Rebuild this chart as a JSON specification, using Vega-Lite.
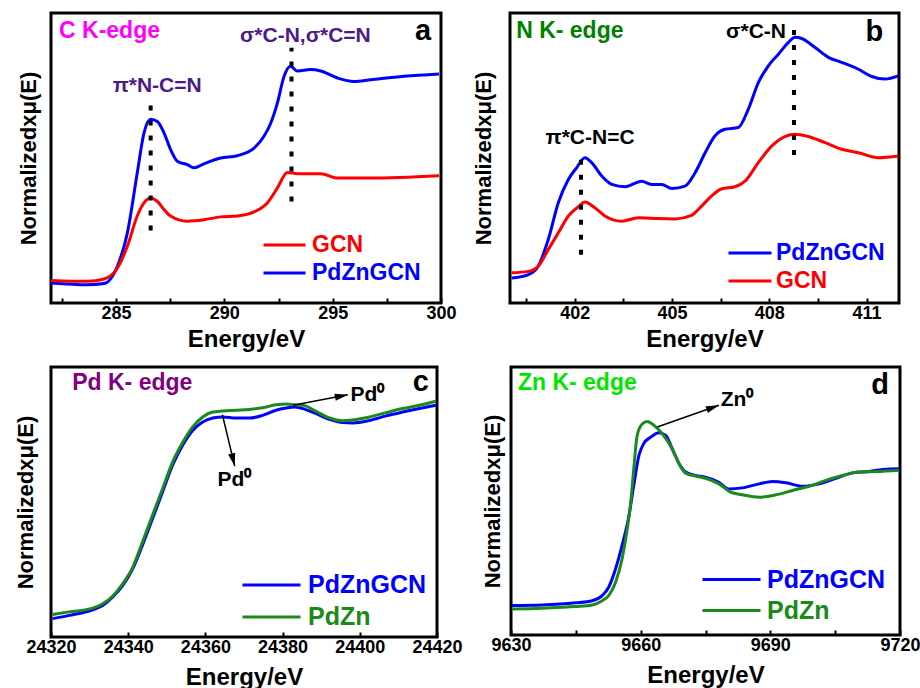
{
  "$schema": "https://vega.github.io/schema/vega-lite/v6.json",
  "padding": {"left": 12, "top": 11, "right": 0, "bottom": 0},
  "background": "white",
  "config": {
    "font": "Liberation Sans",
    "view": {"stroke": "black", "strokeWidth": 3},
    "axis": {"grid": false, "domain": false, "labelFont": "Liberation Sans", "labelFontWeight": "bold", "labelFontSize": 18, "labelColor": "black", "titleFont": "Liberation Sans", "titleFontWeight": "bold", "titleFontSize": 24, "titleColor": "black", "tickColor": "black", "tickWidth": 2, "tickSize": -5, "labelPadding": 6, "titlePadding": 5},
    "axisX": {"labelFlush": false, "labelOverlap": false},
    "axisY": {"labels": false, "ticks": false, "titleFontSize": 22},
    "legend": {"title": null, "orient": "none", "symbolType": "stroke", "symbolStrokeWidth": 3, "labelFont": "Liberation Sans", "labelFontWeight": "bold", "padding": 0, "rowPadding": 0},
    "text": {"font": "Liberation Sans", "fontWeight": "bold"}
  },
  "datasets": {
    "a": [
      {"e": 282.0, "v": 6.9, "s": "PdZnGCN"}, {"e": 283.68, "v": 6.3, "s": "PdZnGCN"}, {"e": 284.45, "v": 6.7, "s": "PdZnGCN"}, {"e": 285.06, "v": 12.6, "s": "PdZnGCN"}, {"e": 285.52, "v": 24, "s": "PdZnGCN"}, {"e": 285.98, "v": 44.8, "s": "PdZnGCN"}, {"e": 286.29, "v": 58.6, "s": "PdZnGCN"}, {"e": 286.6, "v": 63.4, "s": "PdZnGCN"}, {"e": 286.91, "v": 62.6, "s": "PdZnGCN"}, {"e": 287.22, "v": 58.6, "s": "PdZnGCN"}, {"e": 287.52, "v": 52.9, "s": "PdZnGCN"}, {"e": 287.83, "v": 48.9, "s": "PdZnGCN"}, {"e": 288.29, "v": 47.7, "s": "PdZnGCN"}, {"e": 288.6, "v": 46.6, "s": "PdZnGCN"}, {"e": 289.06, "v": 48, "s": "PdZnGCN"}, {"e": 289.83, "v": 50, "s": "PdZnGCN"}, {"e": 290.6, "v": 50.8, "s": "PdZnGCN"}, {"e": 291.37, "v": 53.4, "s": "PdZnGCN"}, {"e": 291.83, "v": 57.5, "s": "PdZnGCN"}, {"e": 292.14, "v": 62, "s": "PdZnGCN"}, {"e": 292.45, "v": 69, "s": "PdZnGCN"}, {"e": 292.75, "v": 78, "s": "PdZnGCN"}, {"e": 293.06, "v": 81.6, "s": "PdZnGCN"}, {"e": 293.37, "v": 80, "s": "PdZnGCN"}, {"e": 293.98, "v": 80.5, "s": "PdZnGCN"}, {"e": 294.45, "v": 80, "s": "PdZnGCN"}, {"e": 295.22, "v": 77.6, "s": "PdZnGCN"}, {"e": 295.98, "v": 76.4, "s": "PdZnGCN"}, {"e": 296.75, "v": 77, "s": "PdZnGCN"}, {"e": 298.29, "v": 78.2, "s": "PdZnGCN"}, {"e": 299.91, "v": 79, "s": "PdZnGCN"},
      {"e": 282.0, "v": 7.8, "s": "GCN"}, {"e": 283.68, "v": 7.5, "s": "GCN"}, {"e": 284.45, "v": 8.3, "s": "GCN"}, {"e": 285.06, "v": 12, "s": "GCN"}, {"e": 285.52, "v": 19.5, "s": "GCN"}, {"e": 285.98, "v": 30, "s": "GCN"}, {"e": 286.29, "v": 34.5, "s": "GCN"}, {"e": 286.6, "v": 36.2, "s": "GCN"}, {"e": 286.91, "v": 35, "s": "GCN"}, {"e": 287.22, "v": 32.2, "s": "GCN"}, {"e": 287.52, "v": 30, "s": "GCN"}, {"e": 288.29, "v": 28.2, "s": "GCN"}, {"e": 289.06, "v": 28.7, "s": "GCN"}, {"e": 289.83, "v": 29.7, "s": "GCN"}, {"e": 290.6, "v": 30, "s": "GCN"}, {"e": 291.37, "v": 31.4, "s": "GCN"}, {"e": 291.98, "v": 34.5, "s": "GCN"}, {"e": 292.45, "v": 39.7, "s": "GCN"}, {"e": 292.91, "v": 45, "s": "GCN"}, {"e": 293.37, "v": 44.6, "s": "GCN"}, {"e": 294.45, "v": 44.6, "s": "GCN"}, {"e": 295.22, "v": 43.1, "s": "GCN"}, {"e": 296.75, "v": 43.1, "s": "GCN"}, {"e": 299.91, "v": 43.9, "s": "GCN"}
    ],
    "b": [
      {"e": 400.05, "v": 8.6, "s": "PdZnGCN"}, {"e": 400.57, "v": 9.8, "s": "PdZnGCN"}, {"e": 400.87, "v": 12.7, "s": "PdZnGCN"}, {"e": 401.18, "v": 21.9, "s": "PdZnGCN"}, {"e": 401.49, "v": 34.6, "s": "PdZnGCN"}, {"e": 401.8, "v": 42.6, "s": "PdZnGCN"}, {"e": 402.06, "v": 46.7, "s": "PdZnGCN"}, {"e": 402.31, "v": 50.1, "s": "PdZnGCN"}, {"e": 402.52, "v": 48.4, "s": "PdZnGCN"}, {"e": 402.83, "v": 43.8, "s": "PdZnGCN"}, {"e": 403.14, "v": 40.9, "s": "PdZnGCN"}, {"e": 403.55, "v": 40.1, "s": "PdZnGCN"}, {"e": 404.06, "v": 42, "s": "PdZnGCN"}, {"e": 404.37, "v": 40.9, "s": "PdZnGCN"}, {"e": 404.68, "v": 40.9, "s": "PdZnGCN"}, {"e": 404.99, "v": 39.5, "s": "PdZnGCN"}, {"e": 405.4, "v": 40.3, "s": "PdZnGCN"}, {"e": 405.71, "v": 44.9, "s": "PdZnGCN"}, {"e": 406.02, "v": 51.8, "s": "PdZnGCN"}, {"e": 406.32, "v": 57.6, "s": "PdZnGCN"}, {"e": 406.63, "v": 59.9, "s": "PdZnGCN"}, {"e": 407.04, "v": 60.5, "s": "PdZnGCN"}, {"e": 407.35, "v": 66.8, "s": "PdZnGCN"}, {"e": 407.66, "v": 76, "s": "PdZnGCN"}, {"e": 407.97, "v": 81.8, "s": "PdZnGCN"}, {"e": 408.28, "v": 85.8, "s": "PdZnGCN"}, {"e": 408.59, "v": 89.9, "s": "PdZnGCN"}, {"e": 408.79, "v": 91.6, "s": "PdZnGCN"}, {"e": 409.0, "v": 91.2, "s": "PdZnGCN"}, {"e": 409.41, "v": 88.1, "s": "PdZnGCN"}, {"e": 409.82, "v": 84.7, "s": "PdZnGCN"}, {"e": 410.23, "v": 83, "s": "PdZnGCN"}, {"e": 410.75, "v": 80.6, "s": "PdZnGCN"}, {"e": 411.16, "v": 78.1, "s": "PdZnGCN"}, {"e": 411.57, "v": 77.2, "s": "PdZnGCN"}, {"e": 411.98, "v": 78.3, "s": "PdZnGCN"},
      {"e": 400.05, "v": 10.4, "s": "GCN"}, {"e": 400.57, "v": 10.9, "s": "GCN"}, {"e": 400.87, "v": 12.7, "s": "GCN"}, {"e": 401.18, "v": 18.4, "s": "GCN"}, {"e": 401.49, "v": 24.2, "s": "GCN"}, {"e": 401.8, "v": 30, "s": "GCN"}, {"e": 402.11, "v": 33.2, "s": "GCN"}, {"e": 402.31, "v": 34.8, "s": "GCN"}, {"e": 402.62, "v": 32.8, "s": "GCN"}, {"e": 402.93, "v": 30, "s": "GCN"}, {"e": 403.44, "v": 28.2, "s": "GCN"}, {"e": 403.96, "v": 29.4, "s": "GCN"}, {"e": 404.58, "v": 29.1, "s": "GCN"}, {"e": 405.09, "v": 29, "s": "GCN"}, {"e": 405.6, "v": 30.2, "s": "GCN"}, {"e": 405.91, "v": 33.4, "s": "GCN"}, {"e": 406.22, "v": 36.9, "s": "GCN"}, {"e": 406.53, "v": 39.4, "s": "GCN"}, {"e": 406.94, "v": 40.1, "s": "GCN"}, {"e": 407.25, "v": 42, "s": "GCN"}, {"e": 407.66, "v": 48.4, "s": "GCN"}, {"e": 408.07, "v": 54.1, "s": "GCN"}, {"e": 408.48, "v": 57.4, "s": "GCN"}, {"e": 408.79, "v": 58.2, "s": "GCN"}, {"e": 409.2, "v": 57.4, "s": "GCN"}, {"e": 409.72, "v": 55.3, "s": "GCN"}, {"e": 410.23, "v": 53, "s": "GCN"}, {"e": 410.75, "v": 51.8, "s": "GCN"}, {"e": 411.36, "v": 50.1, "s": "GCN"}, {"e": 411.98, "v": 50.7, "s": "GCN"}
    ],
    "c": [
      {"e": 24320.4, "v": 6.8, "s": "PdZnGCN"}, {"e": 24324.7, "v": 8, "s": "PdZnGCN"}, {"e": 24330.8, "v": 10.1, "s": "PdZnGCN"}, {"e": 24333.4, "v": 11.7, "s": "PdZnGCN"}, {"e": 24336.0, "v": 14.8, "s": "PdZnGCN"}, {"e": 24338.6, "v": 19.1, "s": "PdZnGCN"}, {"e": 24341.2, "v": 25.3, "s": "PdZnGCN"}, {"e": 24343.7, "v": 34, "s": "PdZnGCN"}, {"e": 24346.3, "v": 43.8, "s": "PdZnGCN"}, {"e": 24348.9, "v": 53.7, "s": "PdZnGCN"}, {"e": 24351.5, "v": 63.6, "s": "PdZnGCN"}, {"e": 24354.1, "v": 71, "s": "PdZnGCN"}, {"e": 24356.7, "v": 76.5, "s": "PdZnGCN"}, {"e": 24359.3, "v": 79.6, "s": "PdZnGCN"}, {"e": 24361.9, "v": 81.1, "s": "PdZnGCN"}, {"e": 24364.5, "v": 81.5, "s": "PdZnGCN"}, {"e": 24367.9, "v": 81.1, "s": "PdZnGCN"}, {"e": 24371.4, "v": 81.1, "s": "PdZnGCN"}, {"e": 24374.8, "v": 82.1, "s": "PdZnGCN"}, {"e": 24378.3, "v": 84, "s": "PdZnGCN"}, {"e": 24380.9, "v": 84.8, "s": "PdZnGCN"}, {"e": 24383.0, "v": 85.2, "s": "PdZnGCN"}, {"e": 24385.2, "v": 84.6, "s": "PdZnGCN"}, {"e": 24388.7, "v": 82.7, "s": "PdZnGCN"}, {"e": 24392.1, "v": 80.6, "s": "PdZnGCN"}, {"e": 24395.6, "v": 79.4, "s": "PdZnGCN"}, {"e": 24398.2, "v": 79.3, "s": "PdZnGCN"}, {"e": 24402.5, "v": 80.2, "s": "PdZnGCN"}, {"e": 24406.8, "v": 81.9, "s": "PdZnGCN"}, {"e": 24411.1, "v": 83.3, "s": "PdZnGCN"}, {"e": 24415.4, "v": 84.6, "s": "PdZnGCN"}, {"e": 24419.7, "v": 85.8, "s": "PdZnGCN"},
      {"e": 24320.4, "v": 8.3, "s": "PdZn"}, {"e": 24324.7, "v": 9.3, "s": "PdZn"}, {"e": 24330.8, "v": 10.7, "s": "PdZn"}, {"e": 24333.4, "v": 12.3, "s": "PdZn"}, {"e": 24336.0, "v": 15.2, "s": "PdZn"}, {"e": 24338.6, "v": 19.8, "s": "PdZn"}, {"e": 24341.2, "v": 25.9, "s": "PdZn"}, {"e": 24343.7, "v": 35.2, "s": "PdZn"}, {"e": 24346.3, "v": 45.1, "s": "PdZn"}, {"e": 24348.9, "v": 54.9, "s": "PdZn"}, {"e": 24351.5, "v": 64.8, "s": "PdZn"}, {"e": 24354.1, "v": 72, "s": "PdZn"}, {"e": 24356.7, "v": 77.8, "s": "PdZn"}, {"e": 24359.3, "v": 81.5, "s": "PdZn"}, {"e": 24361.9, "v": 83.3, "s": "PdZn"}, {"e": 24364.5, "v": 83.7, "s": "PdZn"}, {"e": 24367.9, "v": 84, "s": "PdZn"}, {"e": 24371.4, "v": 84.3, "s": "PdZn"}, {"e": 24374.8, "v": 84.9, "s": "PdZn"}, {"e": 24378.3, "v": 86, "s": "PdZn"}, {"e": 24380.9, "v": 86.3, "s": "PdZn"}, {"e": 24383.0, "v": 86, "s": "PdZn"}, {"e": 24385.2, "v": 85.8, "s": "PdZn"}, {"e": 24388.7, "v": 83.6, "s": "PdZn"}, {"e": 24392.1, "v": 81.1, "s": "PdZn"}, {"e": 24395.6, "v": 80.1, "s": "PdZn"}, {"e": 24398.2, "v": 80.4, "s": "PdZn"}, {"e": 24402.5, "v": 81.5, "s": "PdZn"}, {"e": 24406.8, "v": 83.1, "s": "PdZn"}, {"e": 24411.1, "v": 84.6, "s": "PdZn"}, {"e": 24415.4, "v": 85.8, "s": "PdZn"}, {"e": 24419.7, "v": 87.3, "s": "PdZn"}
    ],
    "d": [
      {"e": 9630.2, "v": 11, "s": "PdZnGCN"}, {"e": 9637.2, "v": 11.2, "s": "PdZnGCN"}, {"e": 9644.9, "v": 12, "s": "PdZnGCN"}, {"e": 9648.8, "v": 12.8, "s": "PdZnGCN"}, {"e": 9651.1, "v": 14.7, "s": "PdZnGCN"}, {"e": 9652.6, "v": 17.8, "s": "PdZnGCN"}, {"e": 9654.2, "v": 24.7, "s": "PdZnGCN"}, {"e": 9655.7, "v": 33.4, "s": "PdZnGCN"}, {"e": 9657.3, "v": 44.6, "s": "PdZnGCN"}, {"e": 9658.4, "v": 55.8, "s": "PdZnGCN"}, {"e": 9659.6, "v": 67, "s": "PdZnGCN"}, {"e": 9660.7, "v": 71.4, "s": "PdZnGCN"}, {"e": 9662.3, "v": 73.8, "s": "PdZnGCN"}, {"e": 9664.2, "v": 75.5, "s": "PdZnGCN"}, {"e": 9665.8, "v": 74.5, "s": "PdZnGCN"}, {"e": 9667.3, "v": 69.5, "s": "PdZnGCN"}, {"e": 9668.9, "v": 63.9, "s": "PdZnGCN"}, {"e": 9670.4, "v": 60.8, "s": "PdZnGCN"}, {"e": 9672.7, "v": 59.5, "s": "PdZnGCN"}, {"e": 9675.0, "v": 58.9, "s": "PdZnGCN"}, {"e": 9678.1, "v": 57, "s": "PdZnGCN"}, {"e": 9680.4, "v": 54.5, "s": "PdZnGCN"}, {"e": 9683.5, "v": 54.9, "s": "PdZnGCN"}, {"e": 9687.4, "v": 56.4, "s": "PdZnGCN"}, {"e": 9690.5, "v": 57.3, "s": "PdZnGCN"}, {"e": 9693.6, "v": 56.8, "s": "PdZnGCN"}, {"e": 9697.4, "v": 55.5, "s": "PdZnGCN"}, {"e": 9701.3, "v": 56.4, "s": "PdZnGCN"}, {"e": 9705.2, "v": 58.5, "s": "PdZnGCN"}, {"e": 9709.0, "v": 60.5, "s": "PdZnGCN"}, {"e": 9712.9, "v": 61, "s": "PdZnGCN"}, {"e": 9716.0, "v": 61.8, "s": "PdZnGCN"}, {"e": 9719.8, "v": 62, "s": "PdZnGCN"},
      {"e": 9630.2, "v": 9.7, "s": "PdZn"}, {"e": 9637.2, "v": 10, "s": "PdZn"}, {"e": 9644.9, "v": 10.6, "s": "PdZn"}, {"e": 9648.8, "v": 11.2, "s": "PdZn"}, {"e": 9651.1, "v": 12.8, "s": "PdZn"}, {"e": 9652.6, "v": 14.7, "s": "PdZn"}, {"e": 9654.2, "v": 19.7, "s": "PdZn"}, {"e": 9655.7, "v": 28.4, "s": "PdZn"}, {"e": 9656.9, "v": 39.6, "s": "PdZn"}, {"e": 9657.7, "v": 49.6, "s": "PdZn"}, {"e": 9658.4, "v": 62, "s": "PdZn"}, {"e": 9659.2, "v": 74.5, "s": "PdZn"}, {"e": 9660.4, "v": 78.8, "s": "PdZn"}, {"e": 9661.5, "v": 79.7, "s": "PdZn"}, {"e": 9663.1, "v": 78.2, "s": "PdZn"}, {"e": 9665.0, "v": 75.1, "s": "PdZn"}, {"e": 9667.3, "v": 69.5, "s": "PdZn"}, {"e": 9668.9, "v": 63.9, "s": "PdZn"}, {"e": 9670.4, "v": 60.4, "s": "PdZn"}, {"e": 9672.7, "v": 59.3, "s": "PdZn"}, {"e": 9675.0, "v": 58.5, "s": "PdZn"}, {"e": 9678.1, "v": 56.4, "s": "PdZn"}, {"e": 9680.8, "v": 53.3, "s": "PdZn"}, {"e": 9683.5, "v": 52.3, "s": "PdZn"}, {"e": 9687.4, "v": 51.4, "s": "PdZn"}, {"e": 9691.3, "v": 52.3, "s": "PdZn"}, {"e": 9695.1, "v": 53.9, "s": "PdZn"}, {"e": 9699.0, "v": 55.5, "s": "PdZn"}, {"e": 9702.9, "v": 57.7, "s": "PdZn"}, {"e": 9706.7, "v": 59.5, "s": "PdZn"}, {"e": 9710.6, "v": 60.8, "s": "PdZn"}, {"e": 9714.4, "v": 61, "s": "PdZn"}, {"e": 9719.8, "v": 61.5, "s": "PdZn"}
    ]
  },
  "vconcat": [
    {
      "hconcat": [
        {
          "width": 390, "height": 290,
          "layer": [
            {
              "data": {"name": "a"},
              "mark": {"type": "line", "strokeWidth": 3, "interpolate": "monotone"},
              "encoding": {
                "x": {"field": "e", "type": "quantitative", "scale": {"domain": [282, 300], "nice": false, "zero": false},
                  "axis": {"title": "Energy/eV", "values": [282.5, 285, 287.5, 290, 292.5, 295, 297.5, 300], "format": "d", "labelExpr": "datum.value % 5 === 0 ? datum.label : ''"}},
                "y": {"field": "v", "type": "quantitative", "scale": {"domain": [0, 100], "nice": false, "zero": false}, "axis": {"title": "Normalizedxμ(E)", "titlePadding": 11}},
                "color": {"field": "s", "type": "nominal", "scale": {"domain": ["GCN", "PdZnGCN"], "range": ["#ff0000", "#0000ff"]},
                  "legend": {"legendX": 211, "legendY": 218, "symbolSize": 1764, "clipHeight": 28, "labelFontSize": 23, "labelOffset": 5,
                    "encode": {"labels": {"update": {"fill": {"signal": "datum.value === 'GCN' ? '#ff0000' : '#0000ff'"}}}}}}
              }
            },
            {
              "data": {"values": [{"e": 286.6, "y1": 25, "y2": 70}, {"e": 293.1, "y1": 35, "y2": 88}]},
              "mark": {"type": "rule", "color": "black", "strokeWidth": 4, "strokeDash": [5, 10]},
              "encoding": {"x": {"field": "e", "type": "quantitative"}, "y": {"field": "y1", "type": "quantitative"}, "y2": {"field": "y2"}}
            },
            {
              "data": {"values": [{"e": 282.37, "v": 93.8, "t": "C K-edge"}]},
              "mark": {"type": "text", "align": "left", "baseline": "middle", "fontSize": 23, "color": "#ff00ff"},
              "encoding": {"x": {"field": "e", "type": "quantitative"}, "y": {"field": "v", "type": "quantitative"}, "text": {"field": "t"}}
            },
            {
              "data": {"values": [{"e": 286.9, "v": 74.8, "t": "π*N-C=N"}, {"e": 293.74, "v": 92, "t": "σ*C-N,σ*C=N"}]},
              "mark": {"type": "text", "align": "center", "baseline": "middle", "fontSize": 21, "color": "#4d1a8a"},
              "encoding": {"x": {"field": "e", "type": "quantitative"}, "y": {"field": "v", "type": "quantitative"}, "text": {"field": "t"}}
            },
            {
              "data": {"values": [{"e": 299.17, "v": 93.8, "t": "a"}]},
              "mark": {"type": "text", "align": "center", "baseline": "middle", "fontSize": 29, "color": "black"},
              "encoding": {"x": {"field": "e", "type": "quantitative"}, "y": {"field": "v", "type": "quantitative"}, "text": {"field": "t"}}
            }
          ]
        },
        {
          "width": 389, "height": 290,
          "layer": [
            {
              "data": {"name": "b"},
              "mark": {"type": "line", "strokeWidth": 3, "interpolate": "monotone"},
              "encoding": {
                "x": {"field": "e", "type": "quantitative", "scale": {"domain": [400, 412], "nice": false, "zero": false},
                  "axis": {"title": "Energy/eV", "values": [400.5, 402, 403.5, 405, 406.5, 408, 409.5, 411], "format": "d", "labelExpr": "(datum.value - 402) % 3 === 0 ? datum.label : ''"}},
                "y": {"field": "v", "type": "quantitative", "scale": {"domain": [0, 100], "nice": false, "zero": false}, "axis": {"title": "Normalizedxμ(E)", "titlePadding": 15}},
                "color": {"field": "s", "type": "nominal", "scale": {"domain": ["PdZnGCN", "GCN"], "range": ["#0000ff", "#ff0000"]},
                  "legend": {"legendX": 217, "legendY": 226, "symbolSize": 1849, "clipHeight": 28, "labelFontSize": 23, "labelOffset": 3,
                    "encode": {"labels": {"update": {"fill": {"signal": "datum.value === 'GCN' ? '#ff0000' : '#0000ff'"}}}}}}
              }
            },
            {
              "data": {"values": [{"e": 402.19, "y1": 16.6, "y2": 51.7}, {"e": 408.76, "y1": 51, "y2": 95.5}]},
              "mark": {"type": "rule", "color": "black", "strokeWidth": 4, "strokeDash": [5, 10]},
              "encoding": {"x": {"field": "e", "type": "quantitative"}, "y": {"field": "y1", "type": "quantitative"}, "y2": {"field": "y2"}}
            },
            {
              "data": {"values": [{"e": 400.19, "v": 93.8, "t": "N K- edge"}]},
              "mark": {"type": "text", "align": "left", "baseline": "middle", "fontSize": 23, "color": "#008000"},
              "encoding": {"x": {"field": "e", "type": "quantitative"}, "y": {"field": "v", "type": "quantitative"}, "text": {"field": "t"}}
            },
            {
              "data": {"values": [{"e": 402.47, "v": 56.8, "t": "π*C-N=C"}, {"e": 407.59, "v": 93.5, "t": "σ*C-N"}]},
              "mark": {"type": "text", "align": "center", "baseline": "middle", "fontSize": 21, "color": "black"},
              "encoding": {"x": {"field": "e", "type": "quantitative"}, "y": {"field": "v", "type": "quantitative"}, "text": {"field": "t"}}
            },
            {
              "data": {"values": [{"e": 411.24, "v": 93.3, "t": "b"}]},
              "mark": {"type": "text", "align": "center", "baseline": "middle", "fontSize": 29, "color": "black"},
              "encoding": {"x": {"field": "e", "type": "quantitative"}, "y": {"field": "v", "type": "quantitative"}, "text": {"field": "t"}}
            }
          ]
        }
      ],
      "spacing": 12,
      "resolve": {"scale": {"x": "independent", "y": "independent", "color": "independent"}, "legend": {"color": "independent"}}
    },
    {
      "hconcat": [
        {
          "width": 386, "height": 270,
          "layer": [
            {
              "data": {"name": "c"},
              "mark": {"type": "line", "strokeWidth": 3, "interpolate": "monotone"},
              "encoding": {
                "x": {"field": "e", "type": "quantitative", "scale": {"domain": [24320, 24420], "nice": false, "zero": false},
                  "axis": {"title": "Energy/eV", "titlePadding": 9, "values": [24320, 24330, 24340, 24350, 24360, 24370, 24380, 24390, 24400, 24410, 24420], "format": "d", "labelExpr": "datum.value % 20 === 0 ? datum.label : ''"}},
                "y": {"field": "v", "type": "quantitative", "scale": {"domain": [0, 100], "nice": false, "zero": false}, "axis": {"title": "Normalizedxμ(E)", "titlePadding": 14}},
                "color": {"field": "s", "type": "nominal", "scale": {"domain": ["PdZnGCN", "PdZn"], "range": ["#0000ff", "#1b8a1b"]},
                  "legend": {"legendX": 190, "legendY": 202, "symbolSize": 3364, "clipHeight": 32, "labelFontSize": 25, "labelOffset": 6,
                    "encode": {"labels": {"update": {"fill": {"signal": "datum.value === 'PdZn' ? '#1b8a1b' : '#0000ff'"}}}}}}
              }
            },
            {
              "data": {"values": [{"e1": 24364.4, "v1": 82.3, "e2": 24367.6, "v2": 63.3}, {"e1": 24382.7, "v1": 85.8, "e2": 24396.9, "v2": 89.7}]},
              "mark": {"type": "rule", "color": "black", "strokeWidth": 1.5},
              "encoding": {"x": {"field": "e1", "type": "quantitative"}, "x2": {"field": "e2"}, "y": {"field": "v1", "type": "quantitative"}, "y2": {"field": "v2"}}
            },
            {
              "data": {"values": [{"e": 24367.2, "v": 65.6}]},
              "mark": {"type": "point", "filled": true, "color": "black", "opacity": 1, "shape": "M0,-1L0.55,1L-0.55,1Z", "size": 169, "angle": 166.4},
              "encoding": {"x": {"field": "e", "type": "quantitative"}, "y": {"field": "v", "type": "quantitative"}}
            },
            {
              "data": {"values": [{"e": 24395.25, "v": 89.24}]},
              "mark": {"type": "point", "filled": true, "color": "black", "opacity": 1, "shape": "M0,-1L0.55,1L-0.55,1Z", "size": 169, "angle": 79.1},
              "encoding": {"x": {"field": "e", "type": "quantitative"}, "y": {"field": "v", "type": "quantitative"}}
            },
            {
              "data": {"values": [{"e": 24367.5, "v": 58, "t": "Pd⁰"}]},
              "mark": {"type": "text", "align": "center", "baseline": "middle", "fontSize": 21, "color": "black"},
              "encoding": {"x": {"field": "e", "type": "quantitative"}, "y": {"field": "v", "type": "quantitative"}, "text": {"field": "t"}}
            },
            {
              "data": {"values": [{"e": 24397.6, "v": 89.6, "t": "Pd⁰"}]},
              "mark": {"type": "text", "align": "left", "baseline": "middle", "fontSize": 21, "color": "black"},
              "encoding": {"x": {"field": "e", "type": "quantitative"}, "y": {"field": "v", "type": "quantitative"}, "text": {"field": "t"}}
            },
            {
              "data": {"values": [{"e": 24325.5, "v": 93.9, "t": "Pd K- edge"}]},
              "mark": {"type": "text", "align": "left", "baseline": "middle", "fontSize": 23, "color": "#800080"},
              "encoding": {"x": {"field": "e", "type": "quantitative"}, "y": {"field": "v", "type": "quantitative"}, "text": {"field": "t"}}
            },
            {
              "data": {"values": [{"e": 24415.8, "v": 94.4, "t": "c"}]},
              "mark": {"type": "text", "align": "center", "baseline": "middle", "fontSize": 29, "color": "black"},
              "encoding": {"x": {"field": "e", "type": "quantitative"}, "y": {"field": "v", "type": "quantitative"}, "text": {"field": "t"}}
            }
          ]
        },
        {
          "width": 389, "height": 268,
          "layer": [
            {
              "data": {"name": "d"},
              "mark": {"type": "line", "strokeWidth": 3, "interpolate": "monotone"},
              "encoding": {
                "x": {"field": "e", "type": "quantitative", "scale": {"domain": [9630, 9720], "nice": false, "zero": false},
                  "axis": {"title": "Energy/eV", "titlePadding": 9, "values": [9630, 9645, 9660, 9675, 9690, 9705, 9720], "format": "d", "labelExpr": "datum.value % 30 === 0 ? datum.label : ''"}},
                "y": {"field": "v", "type": "quantitative", "scale": {"domain": [0, 100], "nice": false, "zero": false}, "axis": {"title": "Normalizedxμ(E)", "titlePadding": 7}},
                "color": {"field": "s", "type": "nominal", "scale": {"domain": ["PdZnGCN", "PdZn"], "range": ["#0000ff", "#1b8a1b"]},
                  "legend": {"legendX": 190, "legendY": 197, "symbolSize": 3364, "clipHeight": 31, "labelFontSize": 25, "labelOffset": 5,
                    "encode": {"labels": {"update": {"fill": {"signal": "datum.value === 'PdZn' ? '#1b8a1b' : '#0000ff'"}}}}}}
              }
            },
            {
              "data": {"values": [{"e1": 9663.85, "v1": 77.6, "e2": 9678.1, "v2": 85.7}]},
              "mark": {"type": "rule", "color": "black", "strokeWidth": 1.5},
              "encoding": {"x": {"field": "e1", "type": "quantitative"}, "x2": {"field": "e2"}, "y": {"field": "v1", "type": "quantitative"}, "y2": {"field": "v2"}}
            },
            {
              "data": {"values": [{"e": 9676.7, "v": 84.9}]},
              "mark": {"type": "point", "filled": true, "color": "black", "opacity": 1, "shape": "M0,-1L0.55,1L-0.55,1Z", "size": 169, "angle": 70.6},
              "encoding": {"x": {"field": "e", "type": "quantitative"}, "y": {"field": "v", "type": "quantitative"}}
            },
            {
              "data": {"values": [{"e": 9678.5, "v": 87.7, "t": "Zn⁰"}]},
              "mark": {"type": "text", "align": "left", "baseline": "middle", "fontSize": 21, "color": "black"},
              "encoding": {"x": {"field": "e", "type": "quantitative"}, "y": {"field": "v", "type": "quantitative"}, "text": {"field": "t"}}
            },
            {
              "data": {"values": [{"e": 9631.6, "v": 94, "t": "Zn K- edge"}]},
              "mark": {"type": "text", "align": "left", "baseline": "middle", "fontSize": 23, "color": "#00e600"},
              "encoding": {"x": {"field": "e", "type": "quantitative"}, "y": {"field": "v", "type": "quantitative"}, "text": {"field": "t"}}
            },
            {
              "data": {"values": [{"e": 9715.4, "v": 93.3, "t": "d"}]},
              "mark": {"type": "text", "align": "center", "baseline": "middle", "fontSize": 29, "color": "black"},
              "encoding": {"x": {"field": "e", "type": "quantitative"}, "y": {"field": "v", "type": "quantitative"}, "text": {"field": "t"}}
            }
          ]
        }
      ],
      "spacing": 15,
      "resolve": {"scale": {"x": "independent", "y": "independent", "color": "independent"}, "legend": {"color": "independent"}}
    }
  ],
  "spacing": 12
}
